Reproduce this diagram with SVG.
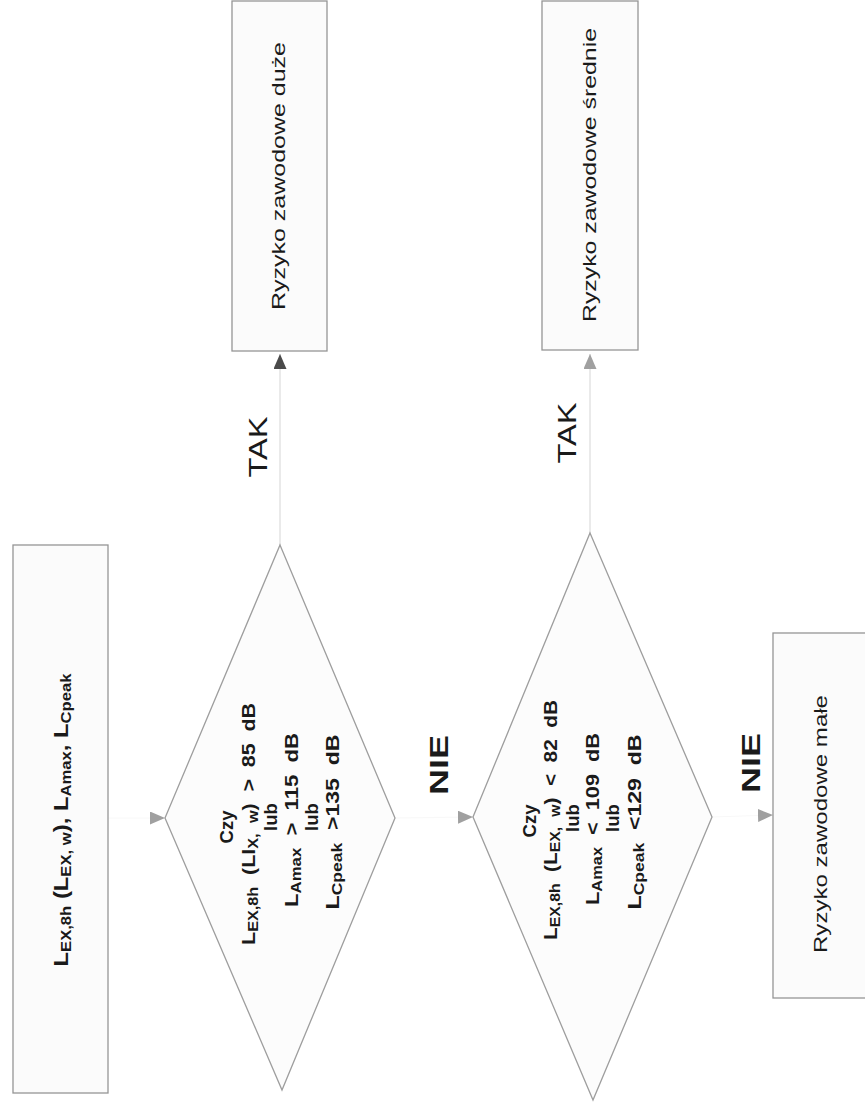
<svg xmlns="http://www.w3.org/2000/svg" width="865" height="1107" viewBox="0 0 865 1107">
<style>
.box{fill:#fbfbfb;stroke:#959595;stroke-width:1.3}
.dia{fill:#fcfcfc;stroke:#9e9e9e;stroke-width:1.3}
.t{font-family:"Liberation Sans",Arial,sans-serif;fill:#1a1a1a;text-anchor:middle}
.reg{font-size:18px}
.bd{font-size:18.5px;font-weight:bold;word-spacing:5px}
.in{font-size:20px;font-weight:bold}
.sub{font-size:14px}
.lbl{font-size:26px}
.con{fill:none;stroke:#dcdcdc;stroke-width:1.2}
.faint{fill:none;stroke:#f8f8f8;stroke-width:1}
</style>
<defs>
<marker id="aDark" markerUnits="userSpaceOnUse" markerWidth="16" markerHeight="13" refX="15" refY="6.5" orient="auto">
<path d="M0,0 L15,6.5 L0,13 z" fill="#4a4a4a"/>
</marker>
<marker id="aGray" markerUnits="userSpaceOnUse" markerWidth="16" markerHeight="13" refX="15" refY="6.5" orient="auto">
<path d="M0,0 L15,6.5 L0,13 z" fill="#a0a0a0"/>
</marker>
</defs>
<rect width="865" height="1107" fill="#ffffff"/>

<g id="connectors">
<path class="con" d="M280,545 L280,354" marker-end="url(#aDark)"/>
<path class="con" d="M590,533 L590,354" marker-end="url(#aGray)"/>
<path class="faint" d="M108,818 L165,818" marker-end="url(#aGray)"/>
<path class="faint" d="M395,818 L473,817" marker-end="url(#aGray)"/>
<path class="faint" d="M712,817 L773,815" marker-end="url(#aGray)"/>
</g>

<g id="labels">
<text class="t lbl" transform="translate(267,447) rotate(-90)" textLength="61" lengthAdjust="spacingAndGlyphs">TAK</text>
<text class="t lbl" transform="translate(576,433) rotate(-90)" textLength="61" lengthAdjust="spacingAndGlyphs">TAK</text>
<text class="t lbl" font-weight="bold" transform="translate(448,765) rotate(-90)" textLength="60" lengthAdjust="spacingAndGlyphs">NIE</text>
<text class="t lbl" font-weight="bold" transform="translate(760,763) rotate(-90)" textLength="60" lengthAdjust="spacingAndGlyphs">NIE</text>
</g>

<g id="input">
<rect class="box" x="13" y="545" width="95" height="548"/>
<text class="t in" transform="translate(68,820) rotate(-90)" textLength="293" lengthAdjust="spacingAndGlyphs">L<tspan class="sub" dy="3">EX,8h</tspan><tspan dy="-3"> (L</tspan><tspan class="sub" dy="3">EX, w</tspan><tspan dy="-3">), L</tspan><tspan class="sub" dy="3">Amax</tspan><tspan dy="-3">, L</tspan><tspan class="sub" dy="3">Cpeak</tspan></text>
</g>

<g id="decision1">
<polygon class="dia" points="280,545 395,818 282,1090 165,818"/>
<text class="t bd" transform="translate(233,827) rotate(-90)">Czy</text>
<text class="t bd" transform="translate(255,824) rotate(-90)" textLength="242" lengthAdjust="spacingAndGlyphs">L<tspan class="sub" dy="3">EX,8h</tspan><tspan dy="-3"> (LI</tspan><tspan class="sub" dy="3">X, w</tspan><tspan dy="-3">) &gt; 85 dB</tspan></text>
<text class="t bd" transform="translate(277,817) rotate(-90)">lub</text>
<text class="t bd" transform="translate(298,820) rotate(-90)" textLength="174" lengthAdjust="spacingAndGlyphs">L<tspan class="sub" dy="3">Amax</tspan><tspan dy="-3"> &gt; 115 dB</tspan></text>
<text class="t bd" transform="translate(318,817) rotate(-90)">lub</text>
<text class="t bd" transform="translate(339,822) rotate(-90)" textLength="175" lengthAdjust="spacingAndGlyphs">L<tspan class="sub" dy="3">Cpeak</tspan><tspan dy="-3"> &gt;135 dB</tspan></text>
</g>

<g id="decision2">
<polygon class="dia" points="590,533 712,817 593,1100 473,817"/>
<text class="t bd" transform="translate(536,821) rotate(-90)">Czy</text>
<text class="t bd" transform="translate(557,820) rotate(-90)" textLength="240" lengthAdjust="spacingAndGlyphs">L<tspan class="sub" dy="3">EX,8h</tspan><tspan dy="-3"> (L</tspan><tspan class="sub" dy="3">EX, w</tspan><tspan dy="-3">) &lt; 82 dB</tspan></text>
<text class="t bd" transform="translate(579,818) rotate(-90)">lub</text>
<text class="t bd" transform="translate(599,819) rotate(-90)" textLength="172" lengthAdjust="spacingAndGlyphs">L<tspan class="sub" dy="3">Amax</tspan><tspan dy="-3"> &lt; 109 dB</tspan></text>
<text class="t bd" transform="translate(619,818) rotate(-90)">lub</text>
<text class="t bd" transform="translate(641,822) rotate(-90)" textLength="175" lengthAdjust="spacingAndGlyphs">L<tspan class="sub" dy="3">Cpeak</tspan><tspan dy="-3"> &lt;129 dB</tspan></text>
</g>

<g id="risk-high">
<rect class="box" x="232" y="1" width="95" height="350"/>
<text class="t reg" transform="translate(285,176) rotate(-90)" textLength="268" lengthAdjust="spacingAndGlyphs">Ryzyko zawodowe duże</text>
</g>

<g id="risk-medium">
<rect class="box" x="542" y="1" width="96" height="349"/>
<text class="t reg" transform="translate(596,175) rotate(-90)" textLength="294" lengthAdjust="spacingAndGlyphs">Ryzyko zawodowe średnie</text>
</g>

<g id="risk-low">
<rect class="box" x="773" y="633" width="96" height="365"/>
<text class="t reg" transform="translate(827,824) rotate(-90)" textLength="258" lengthAdjust="spacingAndGlyphs">Ryzyko zawodowe małe</text>
</g>
</svg>
